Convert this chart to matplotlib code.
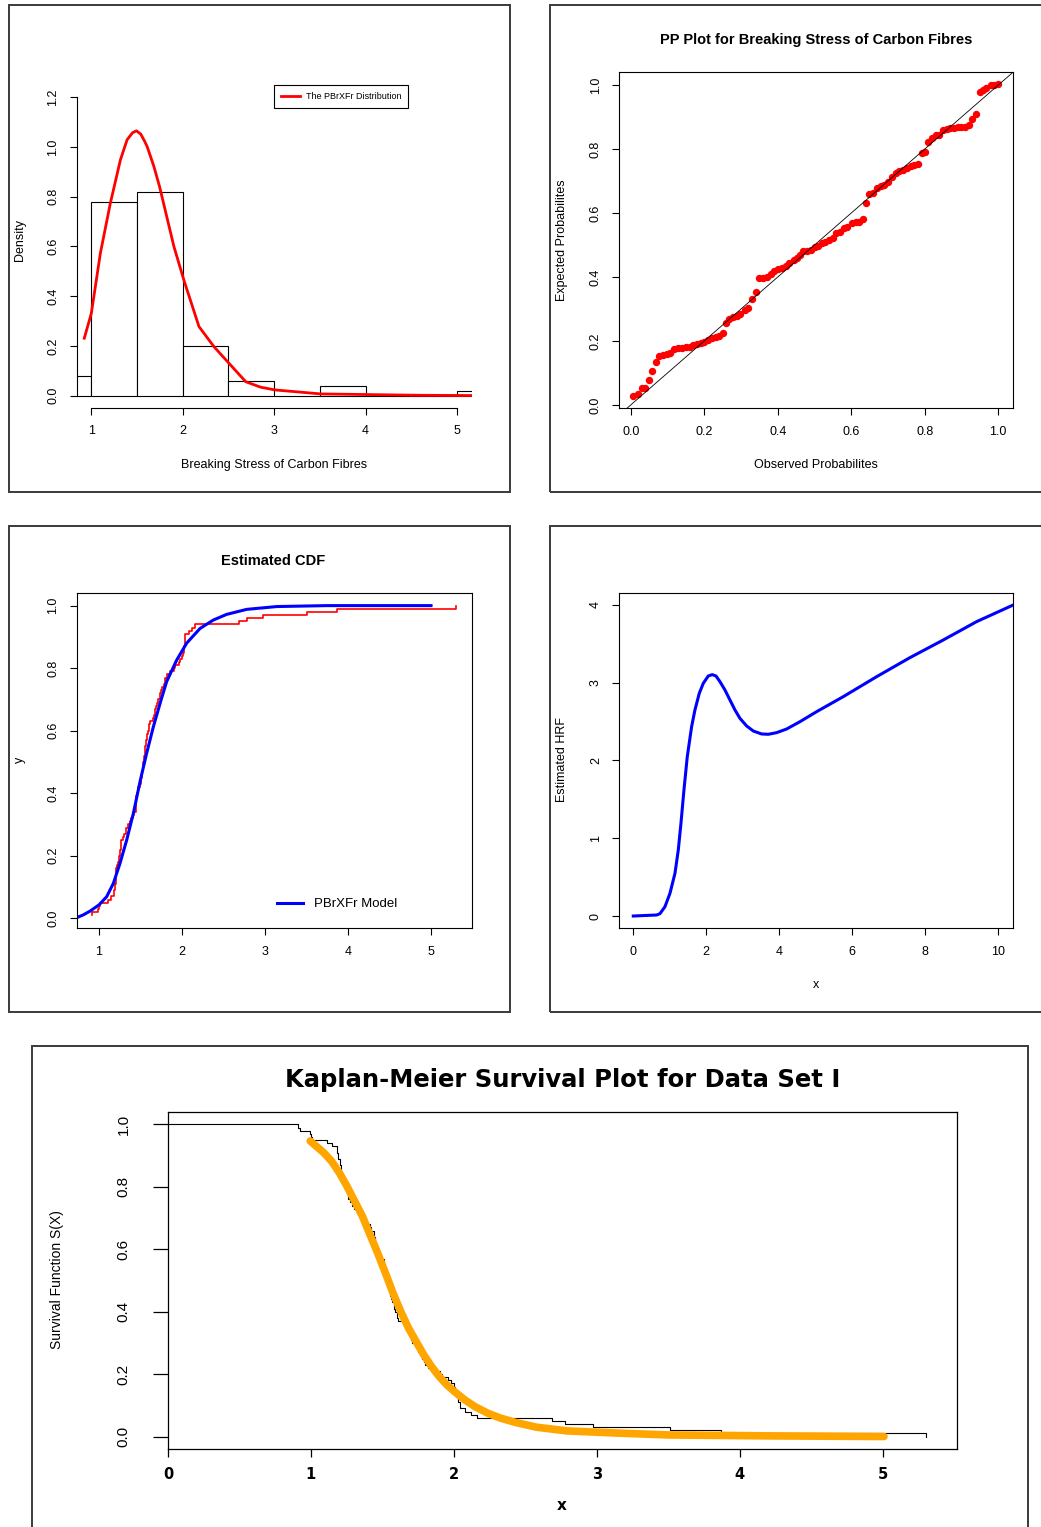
import numpy as np
import matplotlib
matplotlib.use('Agg')
import matplotlib.pyplot as plt
from matplotlib.patches import Rectangle

plt.rcParams['font.family'] = ['Liberation Sans', 'DejaVu Sans']

W, H = 1041, 1527

# ------------------------------------------------------------------
# values
hist_left = [0.5, 1.0, 1.5, 2.0, 2.5, 3.0, 3.5, 4.0, 4.5, 5.0]
hist_density = [0.08, 0.78, 0.82, 0.20, 0.06, 0.0, 0.04, 0.0, 0.0, 0.02]

pdf_x = [0.923, 1.0, 1.099, 1.208, 1.318, 1.391, 1.45, 1.493, 1.54, 1.58, 1.61, 1.684,
         1.746, 1.903, 2.012, 2.177, 2.341, 2.506, 2.689, 2.853, 3.01, 3.51, 4.61, 5.17]
pdf_y = [0.231, 0.331, 0.573, 0.774, 0.948, 1.029, 1.057, 1.065, 1.052, 1.025, 1.002,
         0.922, 0.841, 0.600, 0.465, 0.278, 0.197, 0.130, 0.056, 0.034, 0.023, 0.007,
         0.0015, 0.0005]

pp_obs = [0.007, 0.021, 0.030, 0.039, 0.050, 0.059, 0.068, 0.077, 0.089, 0.098,
          0.107, 0.119, 0.130, 0.139, 0.150, 0.161, 0.170, 0.181, 0.190, 0.200,
          0.211, 0.220, 0.232, 0.241, 0.250, 0.259, 0.268, 0.279, 0.288, 0.297,
          0.311, 0.320, 0.329, 0.340, 0.349, 0.361, 0.370, 0.381, 0.390, 0.402,
          0.413, 0.423, 0.432, 0.443, 0.452, 0.461, 0.470, 0.481, 0.491, 0.501,
          0.510, 0.521, 0.530, 0.540, 0.550, 0.559, 0.569, 0.580, 0.589, 0.601,
          0.612, 0.622, 0.633, 0.640, 0.649, 0.660, 0.669, 0.680, 0.690, 0.701,
          0.710, 0.721, 0.731, 0.742, 0.751, 0.763, 0.772, 0.781, 0.792, 0.800,
          0.810, 0.821, 0.831, 0.840, 0.849, 0.860, 0.869, 0.880, 0.890, 0.900,
          0.909, 0.920, 0.929, 0.939, 0.950, 0.959, 0.968, 0.979, 0.988, 1.000]
pp_exp = [0.029, 0.033, 0.052, 0.052, 0.078, 0.107, 0.135, 0.153, 0.156, 0.158,
          0.161, 0.174, 0.177, 0.179, 0.180, 0.182, 0.188, 0.190, 0.195, 0.198,
          0.203, 0.210, 0.214, 0.217, 0.224, 0.257, 0.268, 0.274, 0.278, 0.284,
          0.297, 0.302, 0.331, 0.354, 0.396, 0.396, 0.401, 0.411, 0.420, 0.424,
          0.427, 0.434, 0.443, 0.453, 0.458, 0.469, 0.482, 0.482, 0.486, 0.495,
          0.497, 0.505, 0.510, 0.516, 0.521, 0.539, 0.542, 0.552, 0.557, 0.568,
          0.571, 0.573, 0.581, 0.632, 0.659, 0.664, 0.677, 0.684, 0.688, 0.698,
          0.714, 0.726, 0.731, 0.736, 0.742, 0.747, 0.750, 0.753, 0.789, 0.792,
          0.823, 0.835, 0.844, 0.844, 0.859, 0.863, 0.865, 0.867, 0.868, 0.870,
          0.870, 0.874, 0.893, 0.909, 0.979, 0.984, 0.992, 1.000, 1.000, 1.002]

# breaking stress sample (sorted), read from the ECDF / Kaplan-Meier steps
stress = [0.91, 0.92, 0.99, 1.00, 1.01, 1.11, 1.15, 1.18, 1.18, 1.19,
          1.19, 1.20, 1.20, 1.21, 1.21, 1.21, 1.22, 1.23, 1.24, 1.24,
          1.25, 1.25, 1.26, 1.26, 1.27, 1.29, 1.30, 1.32, 1.33, 1.35,
          1.37, 1.39, 1.41, 1.42, 1.44, 1.44, 1.45, 1.45, 1.45, 1.46,
          1.47, 1.47, 1.49, 1.51, 1.51, 1.52, 1.52, 1.53, 1.53, 1.53,
          1.54, 1.54, 1.55, 1.55, 1.55, 1.56, 1.57, 1.58, 1.58, 1.59,
          1.60, 1.60, 1.61, 1.65, 1.66, 1.67, 1.68, 1.69, 1.70, 1.71,
          1.73, 1.74, 1.75, 1.76, 1.78, 1.79, 1.80, 1.82, 1.86, 1.90,
          1.92, 1.96, 1.98, 2.00, 2.01, 2.02, 2.02, 2.03, 2.03, 2.04,
          2.04, 2.08, 2.12, 2.16, 2.69, 2.78, 2.97, 3.51, 3.87, 5.30]

cdf_x = [0.731, 0.811, 0.892, 1.0, 1.092, 1.173, 1.253, 1.333, 1.414, 1.498, 1.574,
         1.655, 1.747, 1.815, 1.936, 2.056, 2.217, 2.378, 2.538, 2.779, 3.141, 3.743, 5.0]
cdf_y = [0.002, 0.011, 0.023, 0.043, 0.069, 0.112, 0.176, 0.25, 0.336, 0.442, 0.528,
         0.613, 0.698, 0.757, 0.826, 0.880, 0.927, 0.954, 0.972, 0.988, 0.997, 1.0, 1.0]

hrf_x = [0.0, 0.639, 0.731, 0.868, 1.005, 1.142, 1.233, 1.306, 1.388, 1.479, 1.598,
         1.689, 1.808, 1.918, 2.055, 2.164, 2.265, 2.374, 2.511, 2.648, 2.785, 2.922,
         3.105, 3.288, 3.516, 3.699, 3.927, 4.201, 4.566, 5.023, 5.753, 6.667, 7.580,
         8.493, 9.406, 10.41]
hrf_y = [0.0, 0.013, 0.030, 0.120, 0.292, 0.549, 0.849, 1.192, 1.621, 2.049, 2.435,
         2.650, 2.864, 2.993, 3.087, 3.104, 3.087, 3.014, 2.907, 2.778, 2.650, 2.542,
         2.444, 2.379, 2.341, 2.337, 2.358, 2.405, 2.499, 2.628, 2.821, 3.078, 3.323,
         3.550, 3.786, 4.0]

surv_x = [0.995, 1.038, 1.091, 1.145, 1.199, 1.252, 1.306, 1.360, 1.413, 1.467, 1.521,
          1.574, 1.628, 1.682, 1.735, 1.789, 1.843, 1.896, 1.950, 2.004, 2.075, 2.147,
          2.236, 2.326, 2.433, 2.576, 2.791, 3.148, 3.506, 4.222, 5.009]
surv_y = [0.947, 0.930, 0.909, 0.882, 0.845, 0.802, 0.754, 0.706, 0.647, 0.588, 0.524,
          0.460, 0.401, 0.348, 0.305, 0.262, 0.225, 0.193, 0.166, 0.144, 0.118, 0.096,
          0.075, 0.059, 0.045, 0.030, 0.018, 0.011, 0.005, 0.002, 0.0]
# ------------------------------------------------------------------

fig = plt.figure(figsize=(W / 100, H / 100), dpi=100)
fig.patch.set_facecolor('white')


def px_box(x0, y0, x1, y1):
    return [x0 / W, 1 - y1 / H, (x1 - x0) / W, (y1 - y0) / H]


def frame(x0, y0, x1, y1):
    fig.add_artist(Rectangle((x0 / W, 1 - y1 / H), (x1 - x0) / W, (y1 - y0) / H,
                             transform=fig.transFigure, fill=False,
                             ec='#3a3a3a', lw=1.4))


def label(x, y, s, **kw):
    fig.text(x / W, 1 - y / H, s, ha='center', va='center', **kw)


def r_style(ax):
    ax.tick_params(direction='out', length=5, width=0.8, labelsize=9, pad=7.5)
    ax.tick_params(axis='y', labelrotation=90)
    for lab in ax.get_yticklabels():
        lab.set_va('center')
    for s in ax.spines.values():
        s.set_linewidth(0.8)


# frames of the five pictures
frame(9, 5, 510, 492)
frame(550, 5, 1060, 492)
frame(9, 526, 510, 1012)
frame(550, 526, 1060, 1012)
frame(32, 1046, 1028, 1540)

# ---- 1: histogram with fitted density
ax1 = fig.add_axes(px_box(76.7, 85.3, 471.7, 407.6))
ax1.bar(hist_left, hist_density, width=0.5, align='edge', color='white',
        edgecolor='black', linewidth=0.8)
ax1.plot(pdf_x, pdf_y, color='red', lw=2)
ax1.set_xlim(0.84, 5.16)
ax1.set_ylim(-0.048, 1.248)
ax1.set_xticks([1, 2, 3, 4, 5])
ax1.set_yticks([0.0, 0.2, 0.4, 0.6, 0.8, 1.0, 1.2])
ax1.set_yticklabels(['0.0', '0.2', '0.4', '0.6', '0.8', '1.0', '1.2'])
ax1.spines['top'].set_visible(False)
ax1.spines['right'].set_visible(False)
ax1.spines['left'].set_bounds(0, 1.2)
ax1.spines['bottom'].set_bounds(1, 5)
r_style(ax1)
leg1 = ax1.legend(['The PBrXFr Distribution'], loc='upper left',
                  bbox_to_anchor=(0.4995, 1.0), borderaxespad=0, fontsize=6.5,
                  fancybox=False, edgecolor='black', handlelength=2.1,
                  borderpad=0.75, handletextpad=0.7, framealpha=1)
leg1.get_frame().set_linewidth(0.8)
label(20, 240, 'Density', rotation=90, fontsize=9)
label(274, 465, 'Breaking Stress of Carbon Fibres', fontsize=9)

# ---- 2: PP plot
ax2 = fig.add_axes(px_box(619.3, 72.3, 1013.3, 408.3))
ax2.plot(pp_obs, pp_exp, 'o', color='red', ms=4.3, mec='red')
ax2.axline((0, 0), (1, 1), color='black', lw=0.6)
ax2.set_xlim(-0.031, 1.041)
ax2.set_ylim(-0.0103, 1.04)
ticks = [0.0, 0.2, 0.4, 0.6, 0.8, 1.0]
ax2.set_xticks(ticks)
ax2.set_xticklabels(['0.0', '0.2', '0.4', '0.6', '0.8', '1.0'])
ax2.set_yticks(ticks)
ax2.set_yticklabels(['0.0', '0.2', '0.4', '0.6', '0.8', '1.0'])
r_style(ax2)
label(816, 40, 'PP Plot for Breaking Stress of Carbon Fibres', fontsize=10.5,
      fontweight='bold')
label(562, 240, 'Expected Probabilites', rotation=90, fontsize=9)
label(816, 465, 'Observed Probabilites', fontsize=9)

# ---- 3: estimated CDF
ax3 = fig.add_axes(px_box(76.7, 593.3, 471.7, 928.3))
n = len(stress)
ecdf_y = [(i + 1) / n for i in range(n)]
ax3.step(stress, ecdf_y, where='post', color='red', lw=1.2)
ax3.plot(cdf_x, cdf_y, color='blue', lw=2.2, label='PBrXFr Model')
ax3.set_xlim(0.731, 5.49)
ax3.set_ylim(-0.032, 1.0394)
ax3.set_xticks([1, 2, 3, 4, 5])
ax3.set_yticks(ticks)
ax3.set_yticklabels(['0.0', '0.2', '0.4', '0.6', '0.8', '1.0'])
r_style(ax3)
ax3.legend(loc='center left', bbox_to_anchor=(0.506, 0.0716), frameon=False,
           borderpad=0, borderaxespad=0, fontsize=9.5, handlelength=2.0,
           handletextpad=0.8)
label(273, 561, 'Estimated CDF', fontsize=10.5, fontweight='bold')
label(20, 760, 'y', rotation=90, fontsize=9)

# ---- 4: estimated hazard rate
ax4 = fig.add_axes(px_box(619.3, 593.3, 1013.3, 928.3))
ax4.plot(hrf_x, hrf_y, color='blue', lw=2.2)
ax4.set_xlim(-0.383, 10.41)
ax4.set_ylim(-0.158, 4.15)
ax4.set_xticks([0, 2, 4, 6, 8, 10])
ax4.set_yticks([0, 1, 2, 3, 4])
r_style(ax4)
label(562, 760, 'Estimated HRF', rotation=90, fontsize=9)
label(816, 985, 'x', fontsize=9)

# ---- 5: Kaplan-Meier
ax5 = fig.add_axes(px_box(168, 1112, 957, 1449))
km_x = [0.0] + stress
km_s = [1.0] + [1 - v for v in ecdf_y]
ax5.step(km_x, km_s, where='post', color='black', lw=0.8)
ax5.plot(surv_x, surv_y, color='#FFA500', lw=5.5, solid_capstyle='round')
ax5.set_xlim(0, 5.52)
ax5.set_ylim(-0.04, 1.04)
ax5.set_xticks([0, 1, 2, 3, 4, 5])
ax5.set_yticks(ticks)
ax5.set_yticklabels(['0.0', '0.2', '0.4', '0.6', '0.8', '1.0'])
ax5.tick_params(axis='x', direction='out', length=6, width=0.9, pad=7,
                labelsize=10.5)
ax5.tick_params(axis='y', direction='out', length=11, width=0.9, pad=16,
                labelsize=11, labelrotation=90)
for lab in ax5.get_xticklabels():
    lab.set_family(['DejaVu Sans'])
    lab.set_fontweight('bold')
for lab in ax5.get_yticklabels():
    lab.set_va('center')
for s in ax5.spines.values():
    s.set_linewidth(0.9)
label(563, 1080, 'Kaplan-Meier Survival Plot for Data Set I', fontsize=17.5,
      fontweight='bold', family=['DejaVu Sans'])
label(57, 1280, 'Survival Function S(X)', rotation=90, fontsize=10)
label(562, 1505, 'x', fontsize=11, fontweight='bold', family=['DejaVu Sans'])

fig.savefig('out.png', dpi=100)
